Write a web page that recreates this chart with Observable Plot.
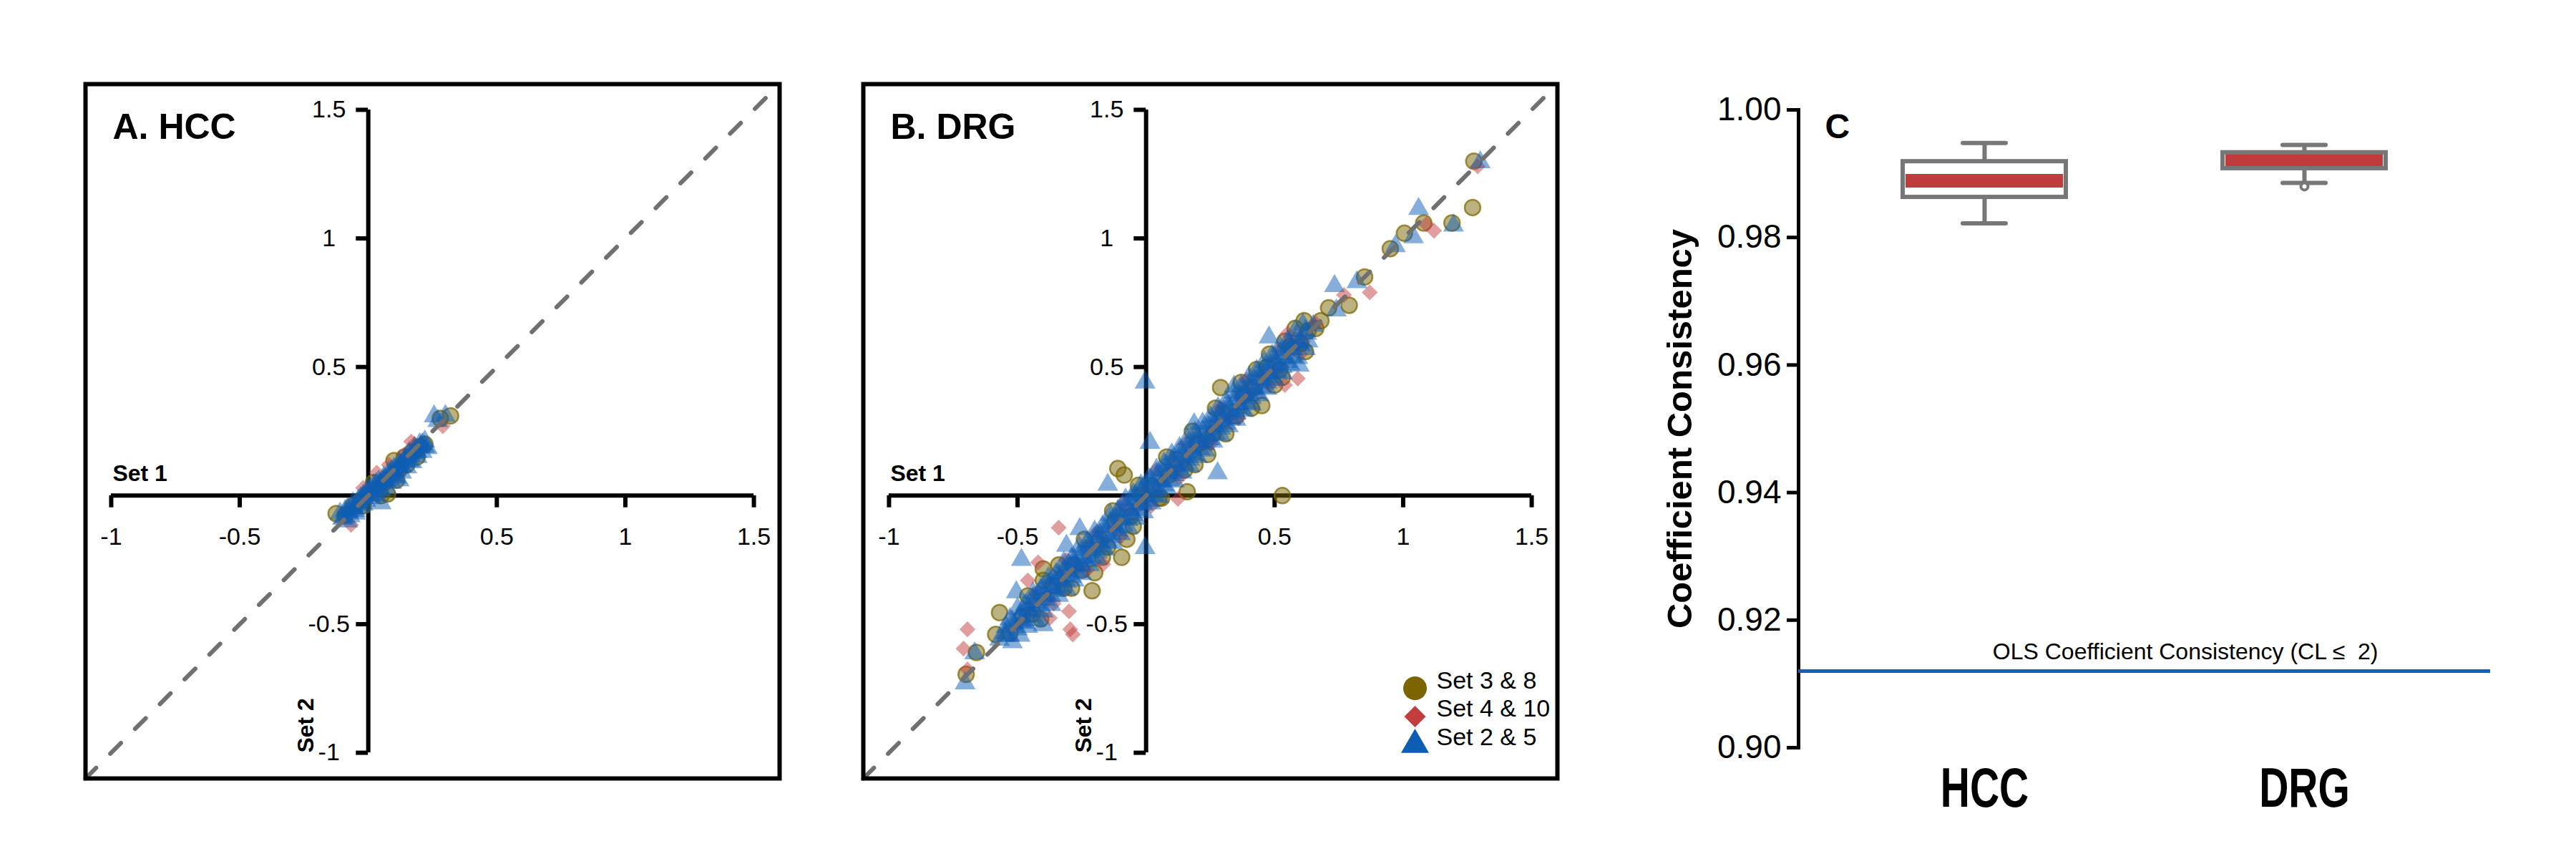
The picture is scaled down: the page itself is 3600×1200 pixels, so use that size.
<!DOCTYPE html>
<html><head><meta charset="utf-8">
<script src="https://cdn.jsdelivr.net/npm/d3@7"></script>
<script src="https://cdn.jsdelivr.net/npm/@observablehq/plot@0.6"></script>
<style>
body{margin:0;background:#fff;width:3600px;height:1200px;position:relative;overflow:hidden;font-family:"Liberation Sans",Arial,sans-serif;}
.panel{position:absolute;}
.panel svg{overflow:visible;}
</style></head><body>
<div id="pa" class="panel" style="left:109px;top:107px"></div>
<div id="pb" class="panel" style="left:1196px;top:107px"></div>
<div id="pc" class="panel" style="left:2300px;top:100px"></div>
<script>
// ---------- data ----------
const axisDomain = [-1.1, 1.6];
const axisExtent = [-1, 1.5];
const xTicks = [-1, -0.5, 0.5, 1, 1.5];
const xTickLabels = ["-1", "-0.5", "0.5", "1", "1.5"];
const yTicks = [1.5, 1, 0.5, -0.5, -1];
const yTickLabels = ["1.5", "1", "0.5", "-0.5", "-1"];
const diagonal = [-1.1, 1.6];

// Panel A (HCC): [Set 1, Set 2]
const circlesA = [[-0.125,-0.07],[-0.09,-0.075],[-0.06,-0.04],[-0.03,-0.02],[0.0,0.01],[0.03,0.025],[0.06,0.05],[0.075,0.006],[0.10,0.136],[0.12,0.10],[0.15,0.12],[0.19,0.15],[0.20,0.19],[0.17,0.17],[0.28,0.30],[0.32,0.31],[0.05,0.0],[0.11,0.06],[0.02,0.05],[0.14,0.15],[0.22,0.2],[-0.02,-0.04]];
const diamondsA = [[-0.067,-0.114],[0.033,0.089],[0.167,0.21],[0.29,0.27],[-0.05,-0.06],[0.0,0.0],[0.06,0.07],[0.10,0.08],[0.14,0.16],[0.20,0.18],[-0.02,0.03],[0.08,0.12],[0.18,0.2],[0.12,0.09]];
const trianglesA = [[-0.11,-0.07],[-0.10,-0.09],[-0.08,-0.05],[-0.07,-0.08],[-0.06,-0.03],[-0.05,-0.06],[-0.04,-0.02],[-0.03,-0.045],[-0.02,0.0],[-0.01,-0.02],[0.0,0.025],[0.01,-0.01],[0.02,0.04],[0.03,0.0],[0.04,0.055],[0.05,0.02],[0.06,0.07],[0.07,0.03],[0.08,0.09],[0.09,0.05],[0.10,0.105],[0.11,0.07],[0.12,0.125],[0.13,0.09],[0.14,0.14],[0.15,0.11],[0.16,0.165],[0.17,0.13],[0.18,0.185],[0.19,0.15],[0.20,0.20],[0.21,0.17],[0.22,0.21],[0.23,0.185],[0.256,0.308],[0.30,0.31],[0.27,0.29],[0.05,-0.03],[0.12,0.06],
[-0.09,-0.06],[-0.06,-0.045],[-0.03,-0.01],[0.0,0.015],[0.03,0.045],[0.06,0.06],[0.09,0.095],[0.12,0.11],[0.15,0.15],[0.18,0.165],[0.21,0.2],[-0.08,-0.1],[-0.05,-0.07],[-0.02,-0.035],[0.01,0.0],[0.04,0.02],[0.07,0.055],[0.10,0.075],[0.13,0.115],[0.16,0.135],[0.19,0.17],[0.22,0.19],
[-0.095,-0.085],[-0.075,-0.065],[-0.055,-0.05],[-0.035,-0.03],[-0.015,-0.01],[0.005,0.01],[0.025,0.025],[0.045,0.045],[0.065,0.06],[0.085,0.08],[0.105,0.1],[0.125,0.12],[0.145,0.135],[0.165,0.155],[0.185,0.175],[0.205,0.19]];

// Panel B (DRG)
const circlesB = [[1.275,1.30],[1.27,1.12],[1.19,1.06],[1.08,1.06],[1.005,1.02],[0.95,0.96],[0.85,0.85],[0.79,0.74],[0.71,0.73],[0.615,0.68],[0.54,0.60],[0.50,0.43],[0.45,0.35],[0.29,0.42],[0.53,0.0],[0.43,0.49],[-0.11,0.105],[-0.085,0.08],[-0.095,-0.24],[-0.075,-0.17],[-0.21,-0.37],[-0.20,-0.30],[-0.40,-0.285],[-0.40,-0.33],[-0.57,-0.455],[-0.585,-0.54],[-0.53,-0.535],[-0.66,-0.61],[-0.70,-0.695],[0.24,0.16],[0.16,0.015],[0.235,0.215],
[-0.48,-0.47],[-0.44,-0.46],[-0.36,-0.35],[-0.32,-0.36],[-0.28,-0.27],[-0.25,-0.29],[-0.18,-0.17],[-0.15,-0.20],[-0.12,-0.10],[-0.06,-0.08],[-0.02,0.0],[0.02,0.04],[0.05,-0.01],[0.09,0.08],[0.12,0.14],[0.15,0.10],[0.20,0.20],[0.26,0.24],[0.30,0.32],[0.35,0.31],[0.38,0.39],[0.42,0.42],[0.47,0.50],[0.52,0.49],[0.56,0.58],[0.60,0.59],[0.63,0.64],[0.66,0.65],[0.68,0.68],
[-0.46,-0.39],[-0.34,-0.27],[-0.24,-0.17],[-0.13,-0.06],[-0.03,0.04],[0.08,0.15],[0.18,0.25],[0.27,0.34],[0.37,0.44],[0.48,0.55],[0.58,0.65],[-0.41,-0.48],[-0.29,-0.36],[-0.17,-0.24],[-0.05,-0.12],[0.06,-0.01],[0.19,0.12],[0.31,0.24],[0.41,0.34],[0.53,0.46],[0.62,0.56]];
const diamondsB = [[1.29,1.28],[1.12,1.03],[1.09,1.055],[0.87,0.79],[0.77,0.78],[0.55,0.63],[0.59,0.455],[0.54,0.43],[-0.34,-0.125],[-0.42,-0.26],[-0.46,-0.33],[-0.30,-0.45],[-0.295,-0.52],[-0.285,-0.54],[-0.695,-0.52],[-0.71,-0.595],[-0.375,-0.476],[0.124,-0.013],[-0.167,-0.267],[-0.695,-0.676],
[-0.50,-0.50],[-0.45,-0.43],[-0.38,-0.40],[-0.33,-0.31],[-0.27,-0.28],[-0.22,-0.20],[-0.17,-0.18],[-0.12,-0.13],[-0.07,-0.05],[-0.03,-0.04],[0.01,0.02],[0.06,0.05],[0.10,0.11],[0.14,0.12],[0.18,0.19],[0.22,0.20],[0.27,0.28],[0.32,0.30],[0.37,0.38],[0.41,0.40],[0.46,0.47],[0.50,0.48],[0.57,0.60],[0.61,0.60],[0.66,0.67],
[-0.43,-0.38],[-0.31,-0.25],[-0.19,-0.14],[-0.09,-0.03],[0.04,0.1],[0.15,0.2],[0.29,0.34],[0.39,0.45],[0.52,0.57],[-0.36,-0.42],[-0.23,-0.29],[-0.1,-0.16],[0.02,-0.04],[0.13,0.07],[0.25,0.2],[0.36,0.3],[0.48,0.43],[0.6,0.55]];
const trianglesB = [[-0.704,-0.73],[-0.667,-0.613],[-0.57,-0.56],[-0.55,-0.535],[-0.545,-0.51],[-0.53,-0.545],[-0.52,-0.49],[-0.505,-0.376],[-0.50,-0.52],[-0.49,-0.47],[-0.485,-0.25],[-0.48,-0.445],[-0.47,-0.495],[-0.46,-0.43],[-0.45,-0.47],[-0.44,-0.40],[-0.43,-0.445],[-0.42,-0.385],[-0.41,-0.425],[-0.40,-0.504],[-0.40,-0.36],[-0.39,-0.405],[-0.38,-0.345],[-0.37,-0.39],[-0.36,-0.325],[-0.35,-0.37],[-0.34,-0.31],[-0.33,-0.355],[-0.32,-0.29],[-0.31,-0.195],[-0.31,-0.335],[-0.30,-0.27],[-0.29,-0.315],[-0.28,-0.25],[-0.27,-0.295],[-0.26,-0.23],[-0.258,-0.13],[-0.25,-0.275],[-0.24,-0.21],[-0.23,-0.255],[-0.22,-0.19],[-0.21,-0.24],[-0.20,-0.165],[-0.19,-0.22],[-0.18,-0.15],[-0.17,-0.20],[-0.16,-0.125],[-0.15,-0.18],[-0.149,0.042],[-0.14,-0.105],[-0.13,-0.16],[-0.12,-0.085],[-0.11,-0.135],[-0.10,-0.06],[-0.09,-0.115],[-0.08,-0.04],[-0.07,-0.095],[-0.06,-0.02],[-0.05,-0.075],[-0.04,0.0],[-0.03,-0.055],[-0.02,0.02],[-0.01,-0.035],[-0.004,0.44],[-0.004,-0.204],[0.0,0.04],[0.01,-0.02],[0.015,0.205],[0.02,0.06],[0.03,0.0],[0.04,0.075],[0.05,0.02],[0.06,0.095],[0.07,0.04],[0.08,0.115],[0.09,0.06],[0.10,0.135],[0.11,0.08],[0.12,0.155],[0.13,0.10],[0.14,0.17],[0.15,0.12],[0.16,0.19],[0.17,0.14],[0.18,0.21],[0.187,0.278],[0.19,0.16],[0.20,0.23],[0.21,0.18],[0.22,0.25],[0.23,0.20],[0.24,0.27],[0.25,0.22],[0.26,0.29],[0.27,0.24],[0.278,0.087],[0.28,0.31],[0.29,0.26],[0.30,0.33],[0.31,0.28],[0.32,0.35],[0.33,0.30],[0.342,0.424],[0.34,0.37],[0.35,0.32],[0.36,0.39],[0.37,0.34],[0.38,0.41],[0.39,0.36],[0.40,0.43],[0.41,0.38],[0.42,0.45],[0.43,0.40],[0.44,0.47],[0.45,0.42],[0.46,0.49],[0.47,0.44],[0.478,0.615],[0.48,0.51],[0.49,0.46],[0.50,0.53],[0.51,0.48],[0.52,0.55],[0.53,0.50],[0.54,0.565],[0.55,0.52],[0.56,0.59],[0.57,0.54],[0.58,0.60],[0.596,0.505],[0.60,0.585],[0.62,0.64],[0.63,0.60],[0.65,0.66],[0.733,0.815],[0.74,0.72],[0.82,0.83],[0.97,0.97],[1.04,1.005],[1.06,1.115],[1.196,1.05],[1.30,1.296],
[-0.53,-0.48],[-0.50,-0.44],[-0.47,-0.425],[-0.44,-0.38],[-0.41,-0.365],[-0.38,-0.32],[-0.35,-0.305],[-0.32,-0.26],[-0.29,-0.245],[-0.26,-0.2],[-0.23,-0.18],[-0.20,-0.14],[-0.17,-0.12],[-0.14,-0.075],[-0.11,-0.06],[-0.08,-0.015],[-0.05,0.005],[-0.02,0.04],[0.01,0.065],[0.04,0.1],[0.07,0.125],[0.10,0.16],[0.13,0.185],[0.16,0.22],[0.19,0.245],[0.22,0.28],[0.25,0.305],[0.28,0.34],[0.31,0.365],[0.34,0.4],[0.37,0.425],[0.40,0.46],[0.43,0.485],[0.46,0.52],[0.49,0.545],[0.52,0.58],[0.55,0.6],[0.58,0.64],[0.61,0.665],
[-0.52,-0.57],[-0.49,-0.545],[-0.46,-0.51],[-0.43,-0.485],[-0.40,-0.45],[-0.37,-0.425],[-0.34,-0.39],[-0.31,-0.365],[-0.28,-0.33],[-0.25,-0.305],[-0.22,-0.27],[-0.19,-0.245],[-0.16,-0.21],[-0.13,-0.185],[-0.10,-0.15],[-0.07,-0.125],[-0.04,-0.09],[-0.01,-0.065],[0.02,-0.03],[0.05,-0.005],[0.08,0.03],[0.11,0.055],[0.14,0.09],[0.17,0.115],[0.20,0.15],[0.23,0.175],[0.26,0.21],[0.29,0.235],[0.32,0.27],[0.35,0.295],[0.38,0.33],[0.41,0.355],[0.44,0.39],[0.47,0.415],[0.50,0.45],[0.53,0.475],[0.56,0.51],[0.59,0.535],[0.62,0.57],
[-0.545,-0.545],[-0.515,-0.5],[-0.485,-0.49],[-0.455,-0.45],[-0.425,-0.415],[-0.395,-0.39],[-0.365,-0.36],[-0.335,-0.325],[-0.305,-0.3],[-0.275,-0.27],[-0.245,-0.24],[-0.215,-0.21],[-0.185,-0.18],[-0.155,-0.145],[-0.125,-0.12],[-0.095,-0.09],[-0.065,-0.055],[-0.035,-0.03],[-0.005,0.0],[0.025,0.03],[0.055,0.055],[0.085,0.09],[0.115,0.115],[0.145,0.15],[0.175,0.175],[0.205,0.21],[0.235,0.235],[0.265,0.27],[0.295,0.295],[0.325,0.33],[0.355,0.355],[0.385,0.39],[0.415,0.415],[0.445,0.45],[0.475,0.475],[0.505,0.51],[0.535,0.535],[0.565,0.57],[0.595,0.595],[0.625,0.63]];

const legendLabels = ["Set 3 & 8", "Set 4 & 10", "Set 2 & 5"];
const legendSymbols = ["circle", "diamond2", "triangle"];
const legendColors = ["#7a6502", "#c23e3e", "#0e5db5"];

// Panel C
const groups = ["HCC", "DRG"];
const whiskerHigh = [0.9948, 0.9945];
const q3 = [0.9919, 0.9933];
const median = [0.9889, 0.9921];
const q1 = [0.9863, 0.9908];
const whiskerLow = [0.9822, 0.98855];
const outliers = [{group: "DRG", value: 0.9880}];
const cTicks = [0.90, 0.92, 0.94, 0.96, 0.98, 1.00];
const olsValue = 0.912;
const olsLabel = "OLS Coefficient Consistency (CL \u2264\u00a0 2)";

// ---------- styles ----------
const OLIVE = "#7a6502", RED = "#c23e3e", BLUE = "#0e5db5";
const FONT = "'Liberation Sans', Arial, sans-serif";
const TICK = 0.047;

function scatter(circles, diamonds, triangles, title, withLegend) {
  const marks = [
    Plot.ruleY([0], {x1: axisExtent[0], x2: axisExtent[1], stroke: "#000", strokeWidth: 6}),
    Plot.ruleX([0], {y1: axisExtent[0], y2: axisExtent[1], stroke: "#000", strokeWidth: 6}),
    Plot.ruleX(xTicks, {x: d => d, y1: 0, y2: -TICK, stroke: "#000", strokeWidth: 6}),
    Plot.ruleY(yTicks, {y: d => d, x1: 0, x2: -TICK, stroke: "#000", strokeWidth: 6}),
    Plot.text(xTicks, {x: d => d, y: 0, text: (d, i) => xTickLabels[i], dy: 69, lineAnchor: "bottom", fontSize: 34, fill: "#000"}),
    Plot.text(yTicks, {x: 0, y: d => d, text: (d, i) => yTickLabels[i], dx: -55, fontSize: 34, fill: "#000"}),
    Plot.text(["Set 1"], {x: axisExtent[0], y: 0, dx: 2, dy: -20, textAnchor: "start", lineAnchor: "bottom", fontWeight: "bold", fontSize: 32, fill: "#000"}),
    Plot.text(["Set 2"], {x: 0, y: axisExtent[0], dx: -77, rotate: -90, textAnchor: "start", lineAnchor: "bottom", fontWeight: "bold", fontSize: 32, fill: "#000"}),
    Plot.dot(circles, {x: d => d[0], y: d => d[1], r: 11, symbol: "circle", fill: OLIVE, fillOpacity: 0.5, stroke: OLIVE, strokeOpacity: 0.7, strokeWidth: 2.5}),
    Plot.dot(diamonds, {x: d => d[0], y: d => d[1], r: 10, symbol: "diamond2", fill: RED, fillOpacity: 0.5}),
    Plot.dot(triangles, {x: d => d[0], y: d => d[1], r: 10.8, symbol: "triangle", fill: BLUE, fillOpacity: 0.5}),
    Plot.line(diagonal, {x: d => d, y: d => d, stroke: "#707070", strokeWidth: 6, strokeDasharray: "21,28", strokeLinecap: "round"}),
    Plot.text([title], {frameAnchor: "top-left", dx: 38, dy: 76, textAnchor: "start", lineAnchor: "bottom", fontWeight: "bold", fontSize: 50, fill: "#000"}),
    Plot.frame({stroke: "#000", strokeWidth: 6})
  ];
  if (withLegend) {
    const rs = [16.5, 13.5, 14.5];
    legendLabels.forEach((label, i) => {
      marks.push(Plot.dot([label], {frameAnchor: "bottom-right", dx: -199, dy: -126 + i * 39.5, symbol: legendSymbols[i], fill: legendColors[i], r: rs[i]}));
      marks.push(Plot.text([label], {frameAnchor: "bottom-right", dx: -169, dy: -126 + i * 39.5, textAnchor: "start", fontSize: 34, fill: "#000"}));
    });
  }
  return Plot.plot({
    width: 990, height: 990, marginTop: 10, marginRight: 10, marginBottom: 10, marginLeft: 10,
    x: {domain: axisDomain, axis: null},
    y: {domain: axisDomain, axis: null},
    style: {fontFamily: FONT, background: "transparent", overflow: "visible"},
    marks
  });
}

document.getElementById("pa").append(scatter(circlesA, diamondsA, trianglesA, "A. HCC", false));
document.getElementById("pb").append(scatter(circlesB, diamondsB, trianglesB, "B. DRG", true));

// Panel C box plot
const boxes = groups.map((g, i) => ({group: g, hi: whiskerHigh[i], q3: q3[i], med: median[i], q1: q1[i], lo: whiskerLow[i]}));
const GRAY = "#777777";
const pc = Plot.plot({
  width: 1200, height: 1090, marginLeft: 213, marginRight: 20, marginTop: 53, marginBottom: 146,
  x: {type: "band", domain: groups, paddingInner: 0.491, paddingOuter: 0.3248, align: 0.5},
  y: {domain: [0.90, 1.00]},
  style: {fontFamily: FONT, background: "transparent", overflow: "visible"},
  marks: [
    Plot.axisY({ticks: cTicks, tickFormat: d3.format(".2f"), tickSize: 16, tickPadding: 8, fontSize: 46, label: null, strokeWidth: 5, stroke: "#000", fill: "#000"}),
    Plot.axisX({tickSize: 0, tickPadding: 27, fontSize: 57, fontWeight: "bold", fontFamily: "'Liberation Sans Narrow', 'Liberation Sans', Arial, sans-serif", label: null, fill: "#000"}),
    Plot.frame({anchor: "left", stroke: "#000", strokeWidth: 5}),
    Plot.ruleY([olsValue], {stroke: "#1160bd", strokeWidth: 5}),
    Plot.text([olsLabel], {frameAnchor: "right", y: olsValue, dx: -157, dy: -17, textAnchor: "end", lineAnchor: "bottom", fontSize: 32, fill: "#000"}),
    Plot.ruleX(boxes, {x: "group", y1: "q3", y2: "hi", stroke: GRAY, strokeWidth: 6}),
    Plot.ruleX(boxes, {x: "group", y1: "lo", y2: "q1", stroke: GRAY, strokeWidth: 6}),
    Plot.tickY(boxes, {x: "group", y: "hi", insetLeft: 84, insetRight: 84, stroke: GRAY, strokeWidth: 6, strokeLinecap: "round"}),
    Plot.tickY(boxes, {x: "group", y: "lo", insetLeft: 84, insetRight: 84, stroke: GRAY, strokeWidth: 6, strokeLinecap: "round"}),
    Plot.barY(boxes, {x: "group", y1: "q1", y2: "q3", fill: "#fff"}),
    Plot.tickY(boxes, {x: "group", y: "med", insetLeft: 4, insetRight: 4, stroke: "#c03c3c", strokeWidth: 19}),
    Plot.barY(boxes, {x: "group", y1: "q1", y2: "q3", fill: "none", stroke: GRAY, strokeWidth: 6}),
    Plot.dot(outliers, {x: "group", y: "value", r: 5, fill: "#fff", stroke: GRAY, strokeWidth: 4}),
    Plot.text(["C"], {frameAnchor: "top-left", dx: 37, dy: 39, textAnchor: "start", lineAnchor: "bottom", fontWeight: "bold", fontSize: 48, fill: "#000"}),
    Plot.text(["Coefficient Consistency"], {frameAnchor: "left", dx: -165, rotate: -90, textAnchor: "middle", lineAnchor: "middle", fontWeight: "bold", fontSize: 49, fill: "#000"})
  ]
});
document.getElementById("pc").append(pc);

// stretch the category labels vertically like the reference
pc.querySelectorAll('[aria-label="x-axis tick label"] text').forEach(t => {
  const tr = t.getAttribute("transform");
  if (tr) {
    t.setAttribute("transform", tr + " scale(1,1.37)");
  } else {
    const x = +t.getAttribute("x") || 0, y = +t.getAttribute("y") || 0;
    t.removeAttribute("x"); t.removeAttribute("y");
    t.setAttribute("transform", `translate(${x},${y}) scale(1,1.37)`);
  }
});
</script>
</body></html>
